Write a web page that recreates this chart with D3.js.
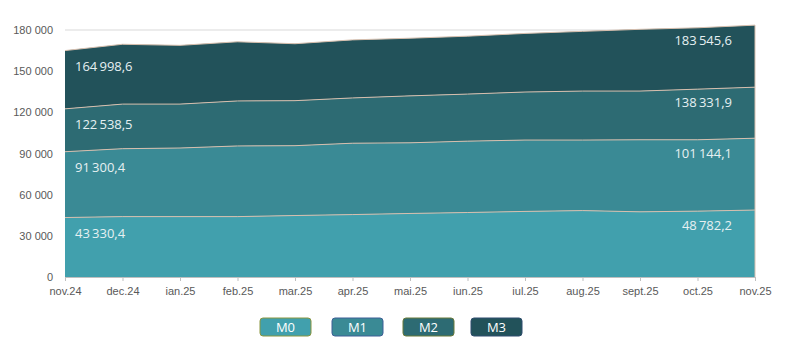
<!DOCTYPE html>
<html>
  <head>
    <style>
      body { margin: 0; font-family: "Open Sans", "Noto Sans", sans-serif; background: #fff; }
      .tick text { fill: #595959; font-size: 11px; }
      .val-label { fill: #e6f0f2; font-size: 13px; }
    </style>
  </head>
  <body>
    <script src="https://d3js.org/d3.v7.min.js"></script>
    <script>
      const months = ['nov.24', 'dec.24', 'ian.25', 'feb.25', 'mar.25', 'apr.25', 'mai.25',
        'iun.25', 'iul.25', 'aug.25', 'sept.25', 'oct.25', 'nov.25'];
      const m0 = [43330.4, 44000, 44000, 44000, 44800, 45500, 46300, 47000, 47800, 48400, 47500, 48000, 48782.2];
      const m1 = [47970.0, 49500, 50000, 51500, 50900, 52000, 51500, 52000, 52000, 51400, 52500, 52000, 52361.9];
      const m2 = [31238.1, 32500, 32000, 32800, 32800, 33000, 34200, 34300, 35000, 35700, 35500, 36900, 37187.8];
      const m3 = [42460.1, 43600, 42800, 43100, 41500, 42300, 42000, 42200, 42700, 43500, 45000, 44700, 45213.7];
      const seriesNames = ['M0', 'M1', 'M2', 'M3'];
      const yTicks = [0, 30000, 60000, 90000, 120000, 150000, 180000];

      const colors = ['#41a0ad', '#3a8a95', '#2d6b73', '#22525a'];
      const legendBorders = ['#8a9640', '#3d5f96', '#6b7a3a', '#2f4d6e'];

      const width = 798, height = 352;
      const margin = { top: 30, right: 43, bottom: 75, left: 65 };

      const locale = d3.formatLocale({ decimal: ',', thousands: '\u2009', grouping: [3] });
      const fmtVal = locale.format(',.1f');
      const fmtTick = d3.formatLocale({ decimal: ',', thousands: ' ', grouping: [3] }).format(',d');

      const table = months.map((m, i) => ({ month: m, M0: m0[i], M1: m1[i], M2: m2[i], M3: m3[i] }));
      const stacked = d3.stack().keys(seriesNames)(table);

      const x = d3.scalePoint()
        .domain(months)
        .range([margin.left, width - margin.right]);

      const y = d3.scaleLinear()
        .domain([0, 180000])
        .range([height - margin.bottom, margin.top]);

      const svg = d3.select('body').append('svg')
        .attr('width', width)
        .attr('height', height);

      // grid
      svg.append('g')
        .selectAll('line')
        .data(yTicks.slice(1))
        .join('line')
        .attr('x1', margin.left)
        .attr('x2', width - margin.right)
        .attr('y1', d => y(d))
        .attr('y2', d => y(d))
        .attr('stroke', '#d9d9d9');

      const area = d3.area()
        .x(d => x(d.data.month))
        .y0(d => y(d[0]))
        .y1(d => y(d[1]));

      svg.append('g')
        .selectAll('path')
        .data(stacked)
        .join('path')
        .attr('d', area)
        .attr('fill', (d, i) => colors[i]);

      // thin light edges between layers
      const line = d3.line()
        .x(d => x(d.data.month))
        .y(d => y(d[1]));

      svg.append('g')
        .selectAll('path')
        .data(stacked)
        .join('path')
        .attr('d', line)
        .attr('fill', 'none')
        .attr('stroke', '#d7bfae')
        .attr('stroke-width', 1);

      svg.append('line')
        .attr('x1', x(months[months.length - 1]))
        .attr('x2', x(months[months.length - 1]))
        .attr('y1', y(0))
        .attr('y2', y(stacked[3][months.length - 1][1]))
        .attr('stroke', '#d7bfae');

      // axes
      const yAxis = d3.axisLeft(y)
        .tickValues(yTicks)
        .tickFormat(fmtTick)
        .tickSize(0)
        .tickPadding(12);

      svg.append('g')
        .attr('transform', `translate(${margin.left},0)`)
        .call(yAxis)
        .call(g => g.select('.domain').remove());

      const xAxis = d3.axisBottom(x)
        .tickSize(4)
        .tickSizeOuter(0)
        .tickPadding(6);

      svg.append('g')
        .attr('transform', `translate(0,${y(0)})`)
        .call(xAxis)
        .call(g => g.select('.domain').attr('stroke', '#bfbfbf'))
        .call(g => g.selectAll('.tick line').attr('stroke', '#bfbfbf'));

      // value labels (first and last month)
      const last = months.length - 1;
      const labels = svg.append('g');
      stacked.forEach(s => {
        labels.append('text')
          .attr('class', 'val-label')
          .attr('x', x(months[0]) + 10)
          .attr('y', y(s[0][1]) + 20)
          .text(fmtVal(s[0][1]));
        labels.append('text')
          .attr('class', 'val-label')
          .attr('text-anchor', 'end')
          .attr('x', x(months[last]) - 23)
          .attr('y', y(s[last][1]) + 20)
          .text(fmtVal(s[last][1]));
      });

      // legend
      const legendX = [260, 332, 403, 471];
      const legend = svg.append('g')
        .selectAll('g')
        .data(seriesNames)
        .join('g')
        .attr('transform', (d, i) => `translate(${legendX[i]},318)`);

      legend.append('rect')
        .attr('width', 51)
        .attr('height', 18)
        .attr('rx', 3)
        .attr('fill', (d, i) => colors[i])
        .attr('stroke', (d, i) => legendBorders[i]);

      legend.append('text')
        .attr('x', 25.5)
        .attr('y', 13.5)
        .attr('text-anchor', 'middle')
        .attr('fill', '#ffffff')
        .attr('font-size', 13)
        .text(d => d);
    </script>
  </body>
</html>
